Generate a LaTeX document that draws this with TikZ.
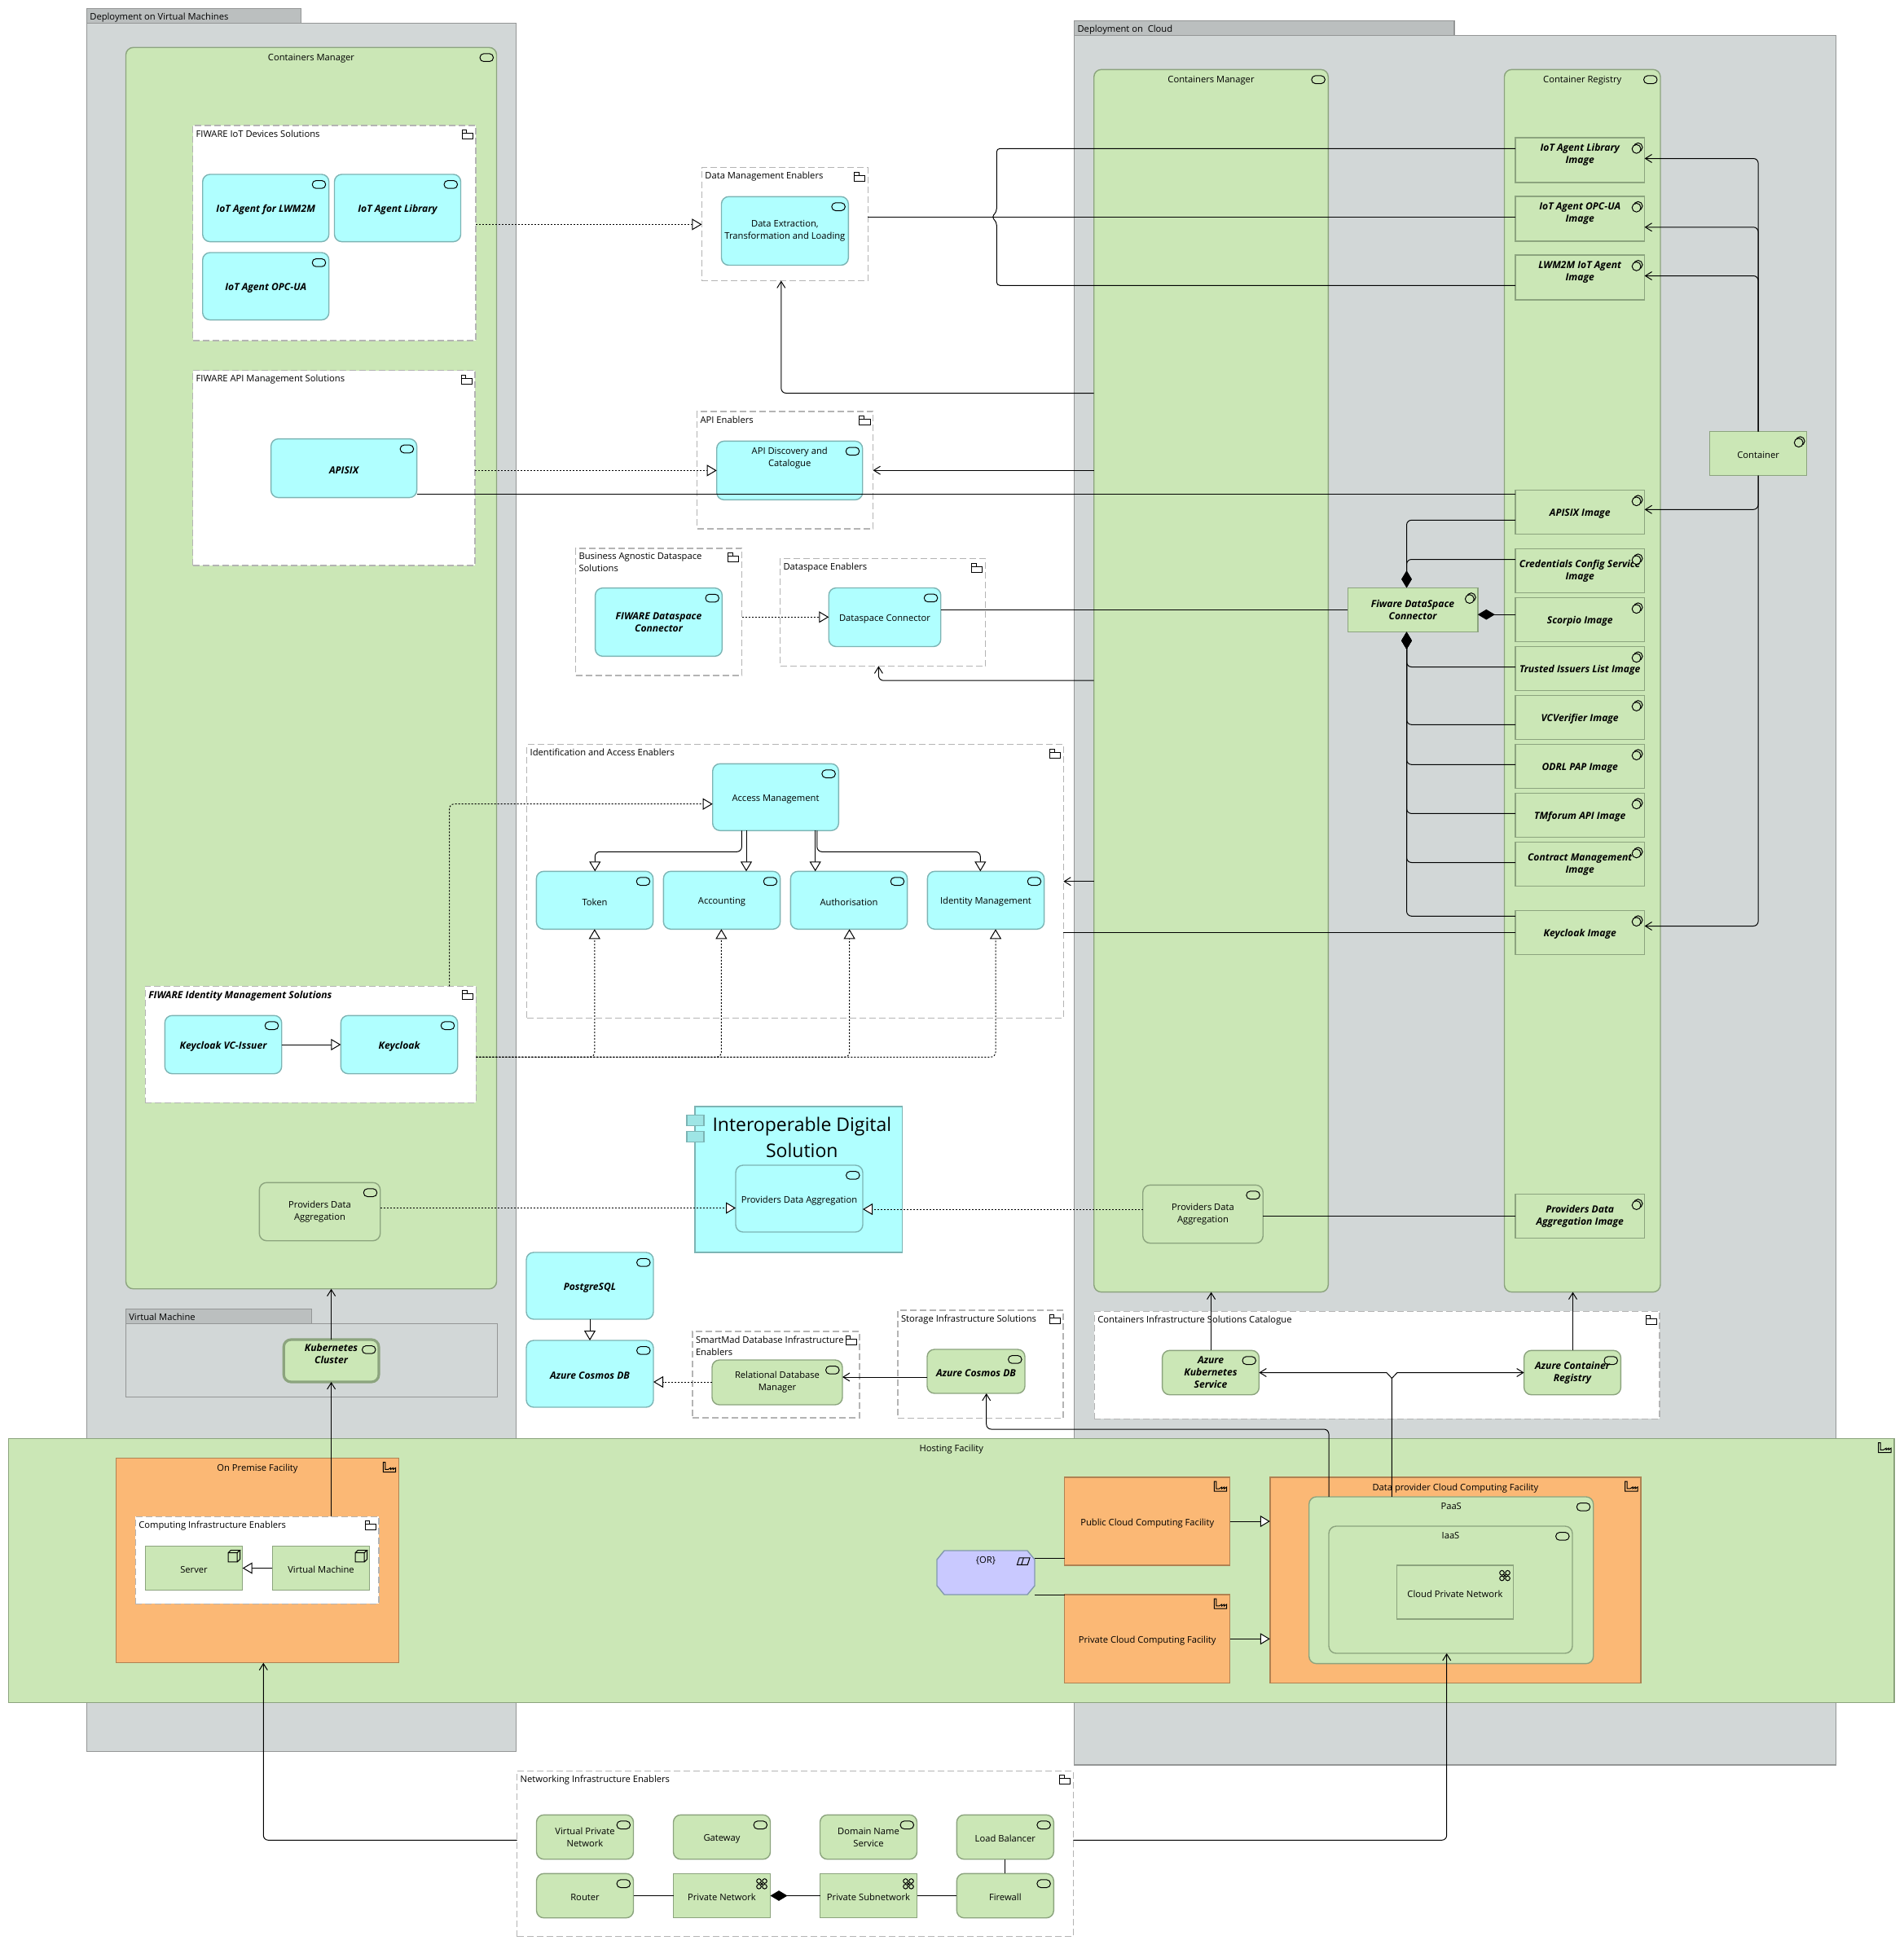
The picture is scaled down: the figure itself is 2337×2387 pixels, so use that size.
\documentclass[tikz,border=0pt]{standalone}
\usepackage{fontspec}
\setmainfont{Open Sans}
\usetikzlibrary{arrows.meta}
\definecolor{boxgreen}{RGB}{203,231,182}
\definecolor{boxblue}{RGB}{176,255,255}
\definecolor{boxgray}{RGB}{210,215,215}
\definecolor{tabgray}{RGB}{187,191,191}
\definecolor{boxorange}{RGB}{251,184,117}
\definecolor{boxpurple}{RGB}{201,201,255}
\definecolor{edgegreen}{RGB}{140,164,126}
\definecolor{edgeblue}{RGB}{124,180,180}
\definecolor{edgegray}{RGB}{148,150,150}
\definecolor{edgeorange}{RGB}{176,130,82}
\definecolor{edgedash}{RGB}{180,180,180}
\newcommand{\archfont}{\fontsize{5.6pt}{7.5pt}\selectfont}
\newcommand{\boldit}{\fontsize{6.05pt}{7.5pt}\selectfont\bfseries\itshape}
\tikzset{
	sz/.style 2 args={minimum width=#1*0.5pt,minimum height=#2*0.5pt},
	basestyle/.style={rectangle,inner sep=0pt,outer sep=0pt,line width=0.7pt,align=center,execute at begin node={\rule{0pt}{6.5pt}}},
	iconline/.style={draw=black,line width=0.5pt},
	svcicon/.pic={
		\draw[iconline,rounded corners=2.3pt] (-10.2pt,-3.8pt) rectangle (-2pt,-8.6pt);
	},
	foldericon/.pic={
		\draw[iconline] (-8.5pt,-4.8pt) rectangle (-1.8pt,-8.3pt) (-8.5pt,-4.8pt) rectangle (-5.6pt,-2.8pt);
	},
	softicon/.pic={
		\draw[iconline] (-4pt,-5.9pt) circle (2.7pt);
		\draw[iconline,fill=boxgreen] (-5pt,-6.9pt) circle (2.7pt);
	},
	factoryicon/.pic={
		\draw[iconline] (-9.7pt,-2.6pt) -- (-9.7pt,-8.6pt) -- (-2pt,-8.6pt) -- (-2pt,-6pt) -- (-3.5pt,-7pt) -- (-3.5pt,-6pt) -- (-5pt,-7pt) -- (-5pt,-6pt) -- (-6.6pt,-7pt) -- (-8.4pt,-7pt) -- (-8.4pt,-2.6pt) -- cycle;
	},
	neticon/.pic={
		\draw[iconline] (-6pt,-5.6pt) -- (-4.5pt,-7pt) (-4.5pt,-5.6pt) -- (-6pt,-7pt) (-7pt,-4.6pt) circle (1.4pt) (-3.5pt,-4.6pt) circle (1.4pt) (-7pt,-8pt) circle (1.4pt) (-3.5pt,-8pt) circle (1.4pt);
	},
	cubeicon/.pic={
		\draw[iconline] (-8.8pt,-4.2pt) rectangle (-3.3pt,-9.8pt) (-8.8pt,-4.2pt) -- (-7.2pt,-2.6pt) -- (-1.6pt,-2.6pt) -- (-3.3pt,-4.2pt) (-1.6pt,-2.6pt) -- (-1.6pt,-8.2pt) -- (-3.3pt,-9.8pt);
	},
	orjicon/.pic={
		\draw[iconline] (-10.8pt,-8.7pt) -- (-9.4pt,-4.4pt) -- (-3pt,-4.4pt) -- (-4.4pt,-8.7pt) -- cycle (-8.2pt,-8.7pt) -- (-6.8pt,-4.4pt);
	},
	toptitle/.style={label={[anchor=north,align=center,inner sep=0pt,yshift=-3.7pt]north:#1}},
	lefttitle/.style={label={[anchor=north west,align=left,inner sep=0pt,xshift=1.8pt,yshift=-2.6pt]north west:#1}},
	groupstyle/.style={basestyle,draw=edgegray,fill=boxgray},
	tabstyle/.style={basestyle,draw=edgegray,fill=tabgray},
	bluestyle/.style={basestyle,draw=edgeblue,fill=boxblue,rounded corners=4.5pt},
	greenstyle/.style={basestyle,draw=edgegreen,fill=boxgreen,rounded corners=4.5pt},
	rectstyle/.style={basestyle,draw=edgegreen,fill=boxgreen},
	orangestyle/.style={basestyle,draw=edgeorange,fill=boxorange},
	folderstyle/.style={basestyle,draw=edgedash,line width=0.6pt,dash pattern=on 4pt off 2pt},
	whitefolder/.style={folderstyle,fill=white},
	conn/.style={draw=black,line width=0.5pt,rounded corners=3pt},
	serve/.style={conn,-{Straight Barb[length=4pt,width=5pt]}},
	gen/.style={conn,-{Triangle[fill=white,length=6pt,width=7pt]}},
	real/.style={gen,dash pattern=on 1pt off 1pt},
	comp/.style={conn,{Diamond[length=10.5pt,width=6.3pt]}-}
}
\begin{document}
\begin{tikzpicture}[x=0.5pt,y=-0.5pt,font=\archfont]
	\useasboundingbox (0,0) rectangle (2337,2387);
	\node[tabstyle,sz={263.3}{18},lefttitle={Deployment on Virtual Machines}] (vmdeptab) at (238,19.5) {};
	\node[groupstyle,sz={527.4}{2120.8}] (vmdep) at (370,1089) {};
	\node[greenstyle,sz={455}{1523.4},toptitle={Containers Manager}] (vmmanager) at (382,820) {};
	\node[whitefolder,sz={347.4}{264},lefttitle={FIWARE IoT Devices Solutions}] (iotsol) at (410.3,286) {};
	\node[bluestyle,sz={155}{82.6}] (agentlwm) at (326.2,255.3) {\boldit IoT Agent for LWM2M};
	\node[bluestyle,sz={155}{82.6}] (agentlib) at (488,255.3) {\boldit IoT Agent Library};
	\node[bluestyle,sz={155}{82.6}] (agentopc) at (326.2,351.3) {\boldit IoT Agent OPC-UA};
	\node[whitefolder,sz={346.4}{239.5},lefttitle={FIWARE API Management Solutions}] (apisol) at (409.8,574.3) {};
	\node[bluestyle,sz={179}{72}] (apisix) at (422.1,574.6) {\boldit APISIX};
	\node[whitefolder,sz={406}{143},lefttitle={\boldit FIWARE Identity Management Solutions}] (idsol) at (381.3,1281.8) {};
	\node[bluestyle,sz={143.4}{71.4}] (kcissuer) at (274,1282) {\boldit Keycloak VC-Issuer};
	\node[bluestyle,sz={143.4}{71.4}] (keycloak) at (490,1282) {\boldit Keycloak};
	\node[greenstyle,sz={148.4}{71.4}] (vmprov) at (392.5,1487) {Providers Data\\Aggregation};
	\node[tabstyle,sz={228.4}{18},lefttitle={Virtual Machine}] (vmtab) at (268.5,1615.3) {};
	\node[groupstyle,sz={456.4}{90}] (vmbox) at (382.5,1669.3) {};
	\node[greenstyle,line width=1.6pt,sz={116.7}{52},label={[anchor=north,align=center,inner sep=0pt,yshift=-2.2pt]north:\boldit Kubernetes\\\boldit Cluster}] (k8s) at (406.6,1670) {};

	\node[tabstyle,sz={466.5}{18.2},lefttitle={Deployment on\ \ Cloud}] (cldeptab) at (1551.8,34.4) {};
	\node[groupstyle,sz={935}{2122.5}] (cldep) at (1786,1104.8) {};
	\node[greenstyle,sz={287.6}{1500.3},toptitle={Containers Manager}] (clmanager) at (1486.5,835.5) {};
	\node[greenstyle,sz={191.5}{1500.3},toptitle={Container Registry}] (registry) at (1942.2,835.5) {};
	\node[rectstyle,sz={158.8}{55},toptitle={\boldit IoT Agent Library\\\boldit Image}] (libimg) at (1939.2,196.5) {};
	\node[rectstyle,sz={158.8}{55},toptitle={\boldit IoT Agent OPC-UA\\\boldit Image}] (opcimg) at (1939.2,268.5) {};
	\node[rectstyle,sz={158.8}{55},toptitle={\boldit LWM2M IoT Agent\\\boldit Image}] (lwmimg) at (1939.2,340.6) {};
	\node[rectstyle,sz={158.8}{54}] (apisiximg) at (1939.2,628.5) {\boldit APISIX Image};
	\node[rectstyle,sz={158.8}{54}] (credimg) at (1939.2,700.5) {\boldit Credentials Config Service\\\boldit Image};
	\node[rectstyle,sz={158.8}{54}] (scorpimg) at (1939.2,760.5) {\boldit Scorpio Image};
	\node[rectstyle,sz={158.8}{54}] (trustimg) at (1939.2,820.6) {\boldit Trusted Issuers List Image};
	\node[rectstyle,sz={158.8}{54}] (vcimg) at (1939.2,880.3) {\boldit VCVerifier Image};
	\node[rectstyle,sz={158.8}{54}] (odrlimg) at (1939.2,940.4) {\boldit ODRL PAP Image};
	\node[rectstyle,sz={158.8}{54}] (tmfimg) at (1939.2,1000.5) {\boldit TMforum API Image};
	\node[rectstyle,sz={158.8}{54}] (contractimg) at (1939.2,1060.6) {\boldit Contract Management\\\boldit Image};
	\node[rectstyle,sz={158.8}{54}] (kcimg) at (1939.2,1144.4) {\boldit Keycloak Image};
	\node[rectstyle,sz={158.8}{54.4}] (provimg) at (1939.2,1492.5) {\boldit Providers Data\\\boldit Aggregation Image};
	\node[rectstyle,sz={119.2}{54}] (container) at (2158.1,556.5) {Container};
	\node[rectstyle,sz={159.6}{54.4}] (fwconn) at (1734,748.5) {\boldit Fiware DataSpace\\\boldit Connector};
	\node[greenstyle,sz={147.5}{71.4}] (clprov) at (1476.5,1490) {Providers Data\\Aggregation};
	\node[whitefolder,sz={693.7}{132},lefttitle={Containers Infrastructure Solutions Catalogue}] (catalogue) at (1690.2,1675.3) {};
	\node[greenstyle,sz={118.8}{54.4}] (aks) at (1486,1684.5) {\boldit Azure\\\boldit Kubernetes\\\boldit Service};
	\node[greenstyle,sz={118.8}{54.4}] (acr) at (1930,1684.5) {\boldit Azure Container\\\boldit Registry};

	\node[folderstyle,sz={204}{139},lefttitle={Data Management Enablers}] (datamgmt) at (963.4,275) {};
	\node[bluestyle,sz={155.8}{84.2}] (dataext) at (963.4,283.4) {Data Extraction,\\Transformation and Loading};
	\node[folderstyle,sz={216}{144},lefttitle={API Enablers}] (apienabler) at (963.6,577) {};
	\node[bluestyle,sz={179}{72},toptitle={API Discovery and\\Catalogue}] (apidisc) at (969.2,577.4) {};
	\node[folderstyle,sz={204}{156},lefttitle={Business Agnostic Dataspace\\Solutions}] (bizagn) at (808.5,751) {};
	\node[bluestyle,sz={155.8}{83.7}] (fwdsc) at (808.5,763.5) {\boldit FIWARE Dataspace\\\boldit Connector};
	\node[folderstyle,sz={252}{132},lefttitle={Dataspace Enablers}] (dsenabler) at (1083.5,751.5) {};
	\node[bluestyle,sz={137.5}{72}] (dsconn) at (1086,757.5) {Dataspace Connector};
	\node[folderstyle,sz={658.7}{335.6},lefttitle={Identification and Access Enablers}] (idaccess) at (976,1081.5) {};
	\node[bluestyle,sz={154.6}{82}] (accessm) at (952,978.3) {Access Management};
	\node[bluestyle,sz={143.3}{71}] (token) at (730,1104.8) {Token};
	\node[bluestyle,sz={143.3}{71}] (accounting) at (886,1104.8) {Accounting};
	\node[bluestyle,sz={143.3}{71}] (authorise) at (1042,1104.8) {Authorisation};
	\node[bluestyle,sz={143.3}{71}] (identitym) at (1210,1104.8) {Identity Management};
	\node[basestyle,draw=edgeblue,fill=boxblue,sz={254.7}{179},label={[anchor=north,align=center,inner sep=0pt,xshift=2pt,yshift=-6.5pt,font=\fontsize{11.5pt}{16pt}\selectfont]north:Interoperable Digital\\Solution}] (idsolution) at (980.3,1447.5) {};
	\node[basestyle,draw=edgeblue,fill=boxblue!90!black,sz={21}{13.5}] (idsoltaba) at (853.5,1375) {};
	\node[basestyle,draw=edgeblue,fill=boxblue!90!black,sz={21}{13.5}] (idsoltabb) at (853.5,1395) {};
	\node[bluestyle,sz={156}{82}] (provin) at (981,1471) {Providers Data Aggregation};
	\node[bluestyle,sz={156}{82}] (pgsql) at (724,1578) {\boldit PostgreSQL};
	\node[bluestyle,sz={156}{82}] (cosmosb) at (724,1686) {\boldit Azure Cosmos DB};
	\node[folderstyle,sz={205}{106},lefttitle={SmartMad Database Infrastructure\\Enablers}] (smartmad) at (952.5,1687) {};
	\node[greenstyle,sz={160}{55}] (rdbm) at (954,1696.5) {Relational Database\\Manager};
	\node[folderstyle,sz={203}{132.7},lefttitle={Storage Infrastructure Solutions}] (storage) at (1203.5,1674.4) {};
	\node[greenstyle,sz={120}{54}] (cosmosg) at (1198,1683) {\boldit Azure Cosmos DB};

	\node[rectstyle,sz={2314.4}{324},toptitle={Hosting Facility}] (hosting) at (1167.8,1927.3) {};
	\node[orangestyle,sz={347.4}{251.4},toptitle={On Premise Facility}] (onprem) at (316,1915) {};
	\node[whitefolder,sz={298.7}{107},lefttitle={Computing Infrastructure Enablers}] (compenabler) at (315.7,1914.8) {};
	\node[rectstyle,sz={119.4}{54.4}] (server) at (238,1924.5) {Server};
	\node[rectstyle,sz={119.4}{54.4}] (vmnode) at (394,1924.5) {Virtual Machine};
	\draw[line width=0.7pt,draw=edgeblue!50!boxpurple!80!black,fill=boxpurple] (1159,1903)--(1261,1903)--(1270,1914)--(1270,1946)--(1261,1957)--(1159,1957)--(1150,1946)--(1150,1914)--cycle;
	\node[basestyle,sz={120}{54},toptitle={\{OR\}}] (orjunction) at (1210,1930) {};
	\node[orangestyle,sz={203}{108}] (publicfac) at (1408.2,1867) {Public Cloud Computing Facility};
	\node[orangestyle,sz={203}{108.7}] (privatefac) at (1408.2,2011.3) {Private Cloud Computing Facility};
	\node[orangestyle,sz={455.2}{252.7},toptitle={Data provider Cloud Computing Facility}] (dpfac) at (1786.4,1939.3) {};
	\node[greenstyle,sz={349}{204.7},toptitle={PaaS}] (paas) at (1781.2,1939.3) {};
	\node[greenstyle,sz={299}{156},toptitle={IaaS}] (iaas) at (1780.5,1951) {};
	\node[rectstyle,sz={143}{66}] (cloudnet) at (1786,1954) {Cloud Private Network};

	\node[folderstyle,sz={682.7}{203.4},lefttitle={Networking Infrastructure Enablers}] (netenabler) at (976,2275) {};
	\node[greenstyle,sz={119}{54.4}] (vpn) at (718,2254.5) {Virtual Private\\Network};
	\node[greenstyle,sz={119}{54.4}] (gateway) at (886,2254.5) {Gateway};
	\node[greenstyle,sz={119}{54.4}] (dns) at (1066,2254.5) {Domain Name\\Service};
	\node[greenstyle,sz={119}{54.4}] (balancer) at (1233.8,2254.5) {Load Balancer};
	\node[greenstyle,sz={119}{54.4}] (router) at (718,2326.5) {Router};
	\node[rectstyle,sz={119}{54.4}] (privnet) at (886,2326.5) {Private Network};
	\node[rectstyle,sz={119}{54.4}] (subnet) at (1066,2326.5) {Private Subnetwork};
	\node[greenstyle,sz={119}{54.4}] (firewall) at (1233.8,2326.5) {Firewall};

	\foreach \n in {vmmanager,agentlwm,agentlib,agentopc,apisix,kcissuer,keycloak,vmprov,k8s,clmanager,registry,clprov,aks,acr,dataext,apidisc,fwdsc,dsconn,accessm,token,accounting,authorise,identitym,provin,pgsql,cosmosb,rdbm,cosmosg,paas,iaas,vpn,gateway,dns,balancer,router,firewall}
		\pic at (\n.north east) {svcicon};
	\foreach \n in {iotsol,apisol,idsol,catalogue,datamgmt,apienabler,bizagn,dsenabler,idaccess,smartmad,storage,compenabler,netenabler}
		\pic at (\n.north east) {foldericon};
	\foreach \n in {libimg,opcimg,lwmimg,apisiximg,credimg,scorpimg,trustimg,vcimg,odrlimg,tmfimg,contractimg,kcimg,provimg,container,fwconn}
		\pic at (\n.north east) {softicon};
	\foreach \n in {hosting,onprem,publicfac,privatefac,dpfac}
		\pic at (\n.north east) {factoryicon};
	\foreach \n in {cloudnet,privnet,subnet}
		\pic at (\n.north east) {neticon};
	\foreach \n in {server,vmnode}
		\pic at (\n.north east) {cubeicon};
	\pic at (orjunction.north east) {orjicon};

	\draw[real] (iotsol.east |- 0,275.4)--(datamgmt.west |- 0,275.4);
	\draw[real] (apisol.east |- 0,577.4)--(apidisc.west |- 0,577.4);
	\draw[conn] (apisix.east |- 0,606.5)--(apisiximg.west |- 0,606.5);
	\draw[conn] (datamgmt.east |- 0,266.5)--(opcimg.west |- 0,266.5);
	\draw[conn,rounded corners=2pt] (libimg.west |- 0,182.3)--(1223.3,182.3)--(1223.3,260)--(1217,266.4)--(1223.3,272.5)--(1223.3,350.3)--(lwmimg.west |- 0,350.3);
	\draw[serve] (clmanager.west |- 0,482.5)--(958.8,482.5)--(958.8,0 |- datamgmt.south);
	\draw[serve] (clmanager.west |- 0,577.2)--(apienabler.east |- 0,577.2);
	\draw[real] (bizagn.east |- 0,757.3)--(dsconn.west |- 0,757.3);
	\draw[conn] (dsconn.east |- 0,748.5)--(fwconn.west |- 0,748.5);
	\draw[serve] (clmanager.west |- 0,835.2)--(1078.4,835.2)--(1078.4,0 |- dsenabler.south);
	\draw[real] (551.5,0 |- idsol.north)--(551.5,986.7)--(accessm.west |- 0,986.7);
	\draw[gen] (910.4,0 |- accessm.south)--(910.4,1045.3)--(730.3,1045.3)--(730.3,0 |- token.north);
	\draw[gen] (916,0 |- accessm.south)--(916,0 |- accounting.north);
	\draw[gen] (1000.7,0 |- accessm.south)--(1000.7,0 |- authorise.north);
	\draw[gen] (1002.8,0 |- accessm.south)--(1002.8,1045.3)--(1203.3,1045.3)--(1203.3,0 |- identitym.north);
	\draw[real] (idsol.east |- 0,1297.3)--(729.8,1297.3)--(729.8,0 |- token.south);
	\draw[real] (idsol.east |- 0,1297.3)--(885.4,1297.3)--(885.4,0 |- accounting.south);
	\draw[real] (idsol.east |- 0,1297.3)--(1042.6,1297.3)--(1042.6,0 |- authorise.south);
	\draw[real] (idsol.east |- 0,1297.3)--(1222,1297.3)--(1222,0 |- identitym.south);
	\draw[gen] (kcissuer.east)--(keycloak.west);
	\draw[real] (vmprov.east |- 0,1482.5)--(provin.west |- 0,1482.5);
	\draw[real] (clprov.west |- 0,1484)--(provin.east |- 0,1484);
	\draw[conn] (clprov.east |- 0,1492.3)--(provimg.west |- 0,1492.3);
	\draw[serve] (clmanager.west |- 0,1081.7)--(idaccess.east |- 0,1081.7);
	\draw[conn] (kcimg.west |- 0,1144.4)--(idaccess.east |- 0,1144.4);
	\draw[serve] (k8s.north)--(k8s.north |- vmmanager.south);
	\draw[serve] (compenabler.north -| k8s.north)--(k8s.south);
	\draw[gen] (pgsql.south)--(cosmosb.north);
	\draw[real] (rdbm.west |- 0,1696)--(cosmosb.east |- 0,1696);
	\draw[serve] (cosmosg.west |- 0,1690)--(rdbm.east |- 0,1690);
	\draw[serve] (1631,0 |- paas.north)--(1631,1754)--(1210.7,1754)--(1210.7,0 |- cosmosg.south);
	\draw[serve] (aks.north -| 1486.6,0)--(1486.6,0 |- clmanager.south);
	\draw[serve] (acr.north -| 1930.5,0)--(1930.5,0 |- registry.south);
	\draw[serve,rounded corners=0pt] (1708.4,0 |- paas.north)--(1708.4,1691.5)--(1702,1684.7)--(aks.east);
	\draw[serve,rounded corners=0pt] (1708.4,1691.5)--(1714.8,1684.7)--(acr.west);
	\draw[gen] (publicfac.east)--(dpfac.west |- publicfac.east);
	\draw[gen] (privatefac.east)--(dpfac.west |- privatefac.east);
	\draw[gen] (vmnode.west)--(server.east);
	\draw[conn] (orjunction.east |- 0,1912)--(publicfac.west |- 0,1912);
	\draw[conn] (orjunction.east |- 0,1957)--(privatefac.west |- 0,1957);
	\draw[serve] (netenabler.west |- 0,2258.3)--(323.3,2258.3)--(323.3,0 |- onprem.south);
	\draw[serve] (netenabler.east |- 0,2258.3)--(1775.7,2258.3)--(1775.7,0 |- iaas.south);
	\draw[conn] (router.east)--(privnet.west);
	\draw[comp] (privnet.east)--(subnet.west);
	\draw[conn] (subnet.east)--(firewall.west);
	\draw[conn] (balancer.south)--(firewall.north);
	\draw[serve] (container.north)--(2158.1,194.5)--(libimg.east |- 0,194.5);
	\draw[serve] (container.north)--(2158.1,278.8)--(opcimg.east |- 0,278.8);
	\draw[serve] (container.north)--(2158.1,338.5)--(lwmimg.east |- 0,338.5);
	\draw[serve] (container.south)--(2158.1,625.3)--(apisiximg.east |- 0,625.3);
	\draw[serve] (container.south)--(2158.1,1136.5)--(kcimg.east |- 0,1136.5);
	\draw[comp] (1726.5,0 |- fwconn.north)--(1726.5,638.3)--(apisiximg.west |- 0,638.3);
	\draw[comp] (1726.5,0 |- fwconn.north)--(1726.5,686.5)--(credimg.west |- 0,686.5);
	\draw[comp] (fwconn.east |- 0,754.2)--(scorpimg.west |- 0,754.2);
	\draw[comp] (1726.5,0 |- fwconn.south)--(1726.5,818.5)--(trustimg.west |- 0,818.5);
	\draw[comp] (1726.5,0 |- fwconn.south)--(1726.5,889.3)--(vcimg.west |- 0,889.3);
	\draw[comp] (1726.5,0 |- fwconn.south)--(1726.5,938.3)--(odrlimg.west |- 0,938.3);
	\draw[comp] (1726.5,0 |- fwconn.south)--(1726.5,998.4)--(tmfimg.west |- 0,998.4);
	\draw[comp] (1726.5,0 |- fwconn.south)--(1726.5,1058.5)--(contractimg.west |- 0,1058.5);
	\draw[comp] (1726.5,0 |- fwconn.south)--(1726.5,1124.3)--(kcimg.west |- 0,1124.3);
\end{tikzpicture}
\end{document}
